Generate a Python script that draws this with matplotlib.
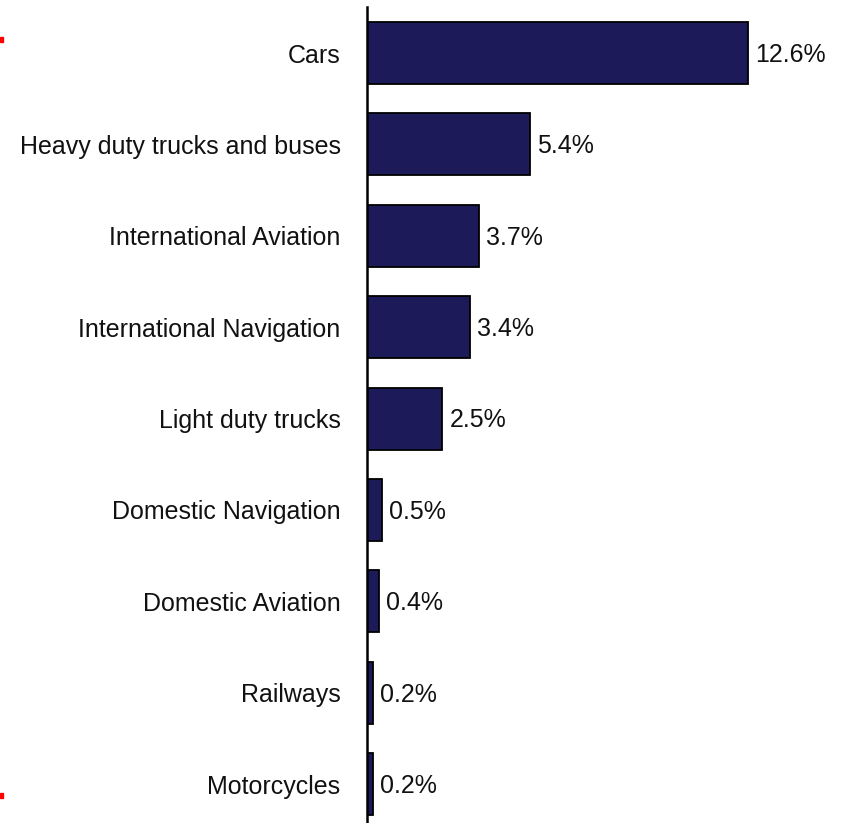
import matplotlib.pyplot as plt
from matplotlib.patches import Rectangle

# ── data ──────────────────────────────────────────────────────────────────────
categories = ["Cars", "Heavy duty trucks and buses", "International Aviation",
              "International Navigation", "Light duty trucks", "Domestic Navigation",
              "Domestic Aviation", "Railways", "Motorcycles"]
shares = [12.6, 5.4, 3.7, 3.4, 2.5, 0.5, 0.4, 0.2, 0.2]
labels = [f"{v:.1f}%" for v in shares]

plt.rcParams["font.family"] = ["Liberation Sans", "DejaVu Sans"]

W, H = 845, 823
fig = plt.figure(figsize=(W / 100, H / 100), dpi=100)

# axes placed in pixel terms: spine at x=367, category pitch ~91.4 px
left = 367 / W
pitch = 91.4
top_px = 53 - pitch / 2
bottom_px = top_px + pitch * len(categories)
ax = fig.add_axes([left, 1 - bottom_px / H, 1 - left, (bottom_px - top_px) / H])

ypos = list(range(len(categories)))
ax.barh(ypos, shares, height=0.68, color="#1c1a58", edgecolor="black", linewidth=1.3)
ax.set_xlim(0, (W - 367) / 30.2)

for y, v, lab in zip(ypos, shares, labels):
    ax.text(v + 0.24, y + 0.02, lab, va="center", ha="left", fontsize=18, color="#111111")

ax.set_yticks(ypos)
ax.set_yticklabels(categories, fontsize=18, color="#111111")
ax.tick_params(axis="y", length=0, pad=19)
ax.set_xticks([])
for s in ["top", "right", "bottom"]:
    ax.spines[s].set_visible(False)
ax.spines["left"].set_linewidth(1.8)
ax.set_ylim(len(categories) - 0.5, -0.5)

# small red marks at the left edge of the reference image
for yy in (37, 793):
    fig.patches.append(Rectangle((0, 1 - (yy + 5) / H), 3 / W, 5 / H,
                                 transform=fig.transFigure, color="red"))

fig.savefig("out.png", dpi=100)
